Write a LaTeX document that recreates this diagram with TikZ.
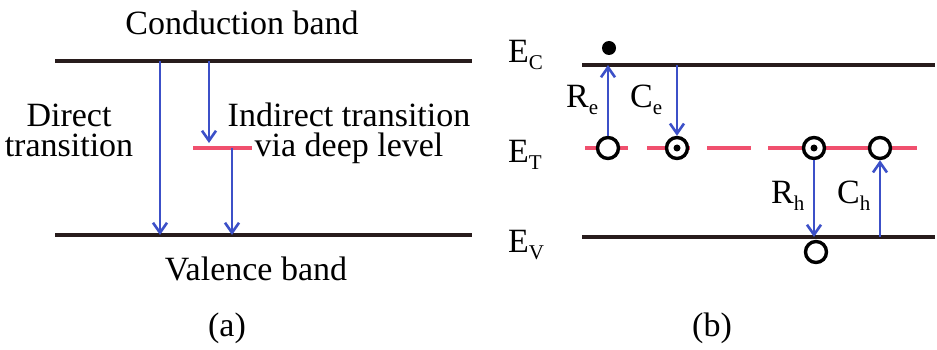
\documentclass[tikz,border=0pt]{standalone}
\usepackage{fontspec}
\setmainfont{Liberation Serif}
\usetikzlibrary{arrows.meta}
\definecolor{bandcol}{RGB}{40,28,28}
\definecolor{arrcol}{RGB}{60,80,200}
\definecolor{trapcol}{RGB}{240,80,110}
\newcommand{\sbs}[1]{\raisebox{-7pt}{\fontsize{21}{21}\selectfont #1}}
\begin{document}
\begin{tikzpicture}[x=1pt,y=-1pt,
  band/.style={line width=4.5pt,bandcol},
  trans/.style={line width=2.8pt,arrcol,-{Straight Barb[length=10pt,width=14pt,line width=2.6pt]}},
  trap/.style={line width=3.8pt,trapcol},
  lbl/.style={inner sep=0pt,anchor=base,font=\fontsize{34}{40}\selectfont},
  twoline/.style={inner sep=0pt,align=center,font=\fontsize{34}{30}\selectfont},
  emptystate/.style={circle,draw=black,line width=3.4pt,fill=white,minimum size=21pt,inner sep=0pt},
  fullstate/.style={circle,fill=black,minimum size=14pt,inner sep=0pt},
  innerdot/.style={circle,fill=black,minimum size=7pt,inner sep=0pt}]
\useasboundingbox[fill=white] (0,0) rectangle (937,350);
% ---------- panel (a)
\coordinate (cbL) at (55,61); \coordinate (cbR) at (472,61);
\coordinate (vbL) at (55,235); \coordinate (vbR) at (472,235);
\draw[band] (cbL) -- (cbR);
\draw[band] (vbL) -- (vbR);
\coordinate (trL) at (193,148); \coordinate (trR) at (252,148);
\draw[trap] (trL) -- (trR);
\coordinate (d1) at (160,61); \coordinate (d2) at (160,235);
\draw[trans] (d1) -- (d2);
\coordinate (i1) at (209,61); \coordinate (i2) at (209,143);
\draw[trans] (i1) -- (i2);
\coordinate (i3) at (232,148); \coordinate (i4) at (232,235);
\draw[trans] (i3) -- (i4);
\node[lbl] (cbt) at (242,35) {Conduction band};
\node[twoline,anchor=base] (dir) at (69,157) {Direct\\transition};
\node[twoline,anchor=base] (ind) at (349,157) {Indirect transition\\via deep level};
\node[lbl] (vbt) at (256,280) {Valence band};
\node[lbl] (pa) at (227,336) {(a)};
% ---------- panel (b)
\coordinate (ecL) at (582,65); \coordinate (ecR) at (935,65);
\coordinate (evL) at (582,237); \coordinate (evR) at (935,237);
\draw[band] (ecL) -- (ecR);
\draw[band] (evL) -- (evR);
\coordinate (t1a) at (585,148); \coordinate (t1b) at (628,148);
\coordinate (t2a) at (647,148); \coordinate (t2b) at (690,148);
\coordinate (t3a) at (707,148); \coordinate (t3b) at (751,148);
\coordinate (t4a) at (768,148); \coordinate (t4b) at (917,148);
\draw[trap] (t1a) -- (t1b);
\draw[trap] (t2a) -- (t2b);
\draw[trap] (t3a) -- (t3b);
\draw[trap] (t4a) -- (t4b);
\node[emptystate] (s1) at (608,148) {};
\node[emptystate] (s2) at (677,148) {};
\node[innerdot] (s2d) at (677,148) {};
\node[emptystate] (s3) at (814,148) {};
\node[innerdot] (s3d) at (814,148) {};
\node[emptystate] (s4) at (880,148) {};
\node[emptystate] (s5) at (816,252) {};
\node[fullstate] (el) at (609,48) {};
\coordinate (ec1) at (608,65); \coordinate (ec2) at (677,65);
\coordinate (ev1) at (814,237); \coordinate (ev2) at (880,237);
\draw[trans] (s1) -- (ec1);
\draw[trans] (ec2) -- (s2);
\draw[trans] (s3) -- (ev1);
\draw[trans] (ev2) -- (s4);
\node[lbl,anchor=base west] (EC) at (508,63) {E\sbs{C}};
\node[lbl,anchor=base west] (ET) at (508,162) {E\sbs{T}};
\node[lbl,anchor=base west] (EV) at (508,252) {E\sbs{V}};
\node[lbl,anchor=base west] (Re) at (566,108) {R\sbs{e}};
\node[lbl,anchor=base west] (Ce) at (630,108) {C\sbs{e}};
\node[lbl,anchor=base west] (Rh) at (771,203) {R\sbs{h}};
\node[lbl,anchor=base west] (Ch) at (837,203) {C\sbs{h}};
\node[lbl] (pb) at (712,336) {(b)};
\end{tikzpicture}
\end{document}
